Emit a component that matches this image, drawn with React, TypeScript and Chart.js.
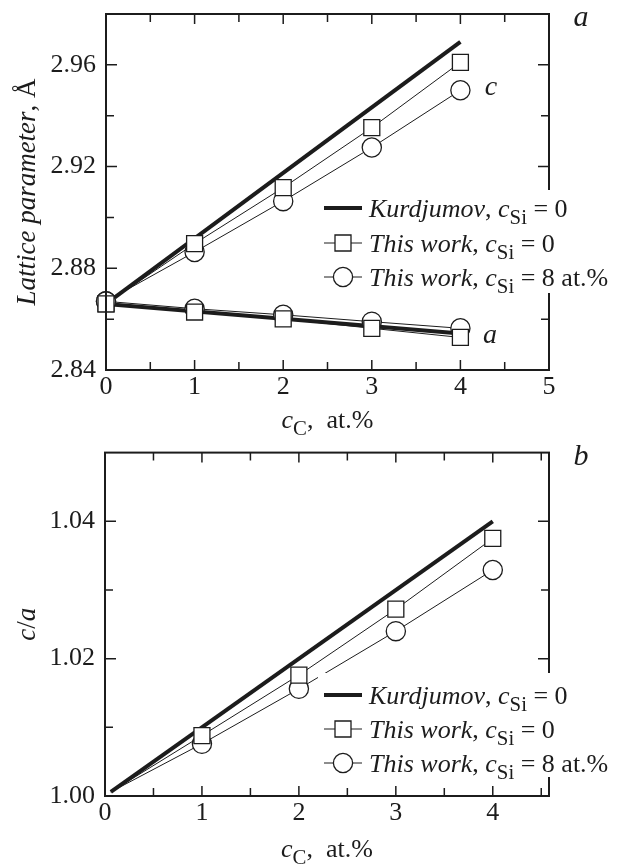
import React, { useEffect, useRef } from 'react';
import { Chart, registerables } from 'chart.js';
Chart.register(...registerables);

const FONT = '"Liberation Serif", "Times New Roman", serif';
const INK = '#1c1c1c';

// ---------- Panel a: lattice parameters ----------
const TOP_X = [0, 1, 2, 3, 4];
const TOP_KURD_X = [0, 4];
const TOP_KURD_C = [2.866, 2.969];
const TOP_KURD_A = [2.866, 2.8544];
const TOP_SQ_C = [2.866, 2.8897, 2.9117, 2.9353, 2.961];
const TOP_SQ_A = [2.866, 2.8628, 2.8601, 2.8564, 2.8528];
const TOP_CI_C = [2.867, 2.8864, 2.9064, 2.9275, 2.950];
const TOP_CI_A = [2.867, 2.8641, 2.8617, 2.859, 2.8564];
const TOP_X_TICKS = [0, 1, 2, 3, 4, 5];
const TOP_X_MINOR = [0.5, 1.5, 2.5, 3.5, 4.5];
const TOP_Y_TICKS = [2.84, 2.88, 2.92, 2.96];
const TOP_Y_MINOR = [2.86, 2.90, 2.94];

// ---------- Panel b: c/a ----------
const BOT_X = [0.06, 1, 2, 3, 4];
const BOT_KURD_X = [0.06, 4];
const BOT_KURD = [1.0006, 1.040];
const BOT_SQ = [1.0006, 1.0088, 1.0176, 1.0272, 1.0375];
const BOT_CI = [1.0006, 1.0076, 1.0156, 1.0240, 1.0329];
const BOT_X_TICKS = [0, 1, 2, 3, 4];
const BOT_X_MINOR = [0.5, 1.5, 2.5, 3.5, 4.5];
const BOT_Y_TICKS = [1.00, 1.02, 1.04];
const BOT_Y_MINOR = [1.01, 1.03];

const LEGEND = [
  { kind: 'line', segs: [['Kurdjumov', true, false], [', ', false, false], ['c', true, false], ['Si', false, true], [' = 0', false, false]] },
  { kind: 'rect', segs: [['This work', true, false], [', ', false, false], ['c', true, false], ['Si', false, true], [' = 0', false, false]] },
  { kind: 'circle', segs: [['This work', true, false], [', ', false, false], ['c', true, false], ['Si', false, true], [' = 8 at.%', false, false]] },
];

type Seg = [string, boolean, boolean];

function segFont(s: Seg, size: number) {
  const sz = s[2] ? size * 0.8 : size;
  return `${s[1] ? 'italic ' : ''}${sz}px ${FONT}`;
}

function richWidth(ctx: CanvasRenderingContext2D, segs: Seg[], size: number) {
  let w = 0;
  for (const s of segs) { ctx.font = segFont(s, size); w += ctx.measureText(s[0]).width; }
  return w;
}

function drawRich(ctx: CanvasRenderingContext2D, segs: Seg[], x: number, y: number, size: number, align: 'left' | 'center') {
  let cx = align === 'center' ? x - richWidth(ctx, segs, size) / 2 : x;
  ctx.textAlign = 'left';
  ctx.textBaseline = 'alphabetic';
  ctx.fillStyle = INK;
  for (const s of segs) {
    ctx.font = segFont(s, size);
    ctx.fillText(s[0], cx, y + (s[2] ? size * 0.28 : 0));
    cx += ctx.measureText(s[0]).width;
  }
}

const pts = (xs: number[], ys: number[]) => xs.map((x, i) => ({ x, y: ys[i] }));

const markerDs = (label: string, data: any[], style: 'rect' | 'circle', firstVisible = true) => ({
  label,
  data,
  borderColor: INK,
  borderWidth: 1,
  pointStyle: style,
  pointRadius: data.map((_, i) => (i === 0 && !firstVisible ? 0 : style === 'rect' ? 11.3 : 9.6)),
  pointBorderWidth: 1.3,
  pointBorderColor: INK,
  pointBackgroundColor: '#ffffff',
  showLine: true,
  tension: 0,
  clip: false as any,
});

const kurdDs = (label: string, data: any[]) => ({
  label,
  data,
  borderColor: INK,
  borderWidth: 4,
  pointRadius: 0,
  showLine: true,
  tension: 0,
  clip: false as any,
});

type PanelCfg = {
  xTicks: number[]; xMinor: number[]; yTicks: number[]; yMinor: number[];
  legendRows: number[]; legendBg: [number, number, number, number];
  yTitle: Seg[]; yTitleX: number; xTitleY: number;
  labels: { t: string; x: number; y: number; size: number }[];
};

function decorPlugin(p: PanelCfg) {
  return {
    id: 'decor',
    afterDatasetsDraw(chart: any) {
      const { ctx, chartArea: a, scales } = chart;
      const xs = scales.x, ys = scales.y;
      ctx.save();
      ctx.strokeStyle = INK;
      ctx.lineWidth = 2;
      ctx.strokeRect(a.left, a.top, a.right - a.left, a.bottom - a.top);
      ctx.lineWidth = 1.5;
      const xt = (v: number, len: number) => {
        const px = xs.getPixelForValue(v);
        ctx.beginPath();
        ctx.moveTo(px, a.bottom); ctx.lineTo(px, a.bottom - len);
        ctx.moveTo(px, a.top); ctx.lineTo(px, a.top + len);
        ctx.stroke();
      };
      const yt = (v: number, len: number) => {
        const py = ys.getPixelForValue(v);
        ctx.beginPath();
        ctx.moveTo(a.left, py); ctx.lineTo(a.left + len, py);
        ctx.moveTo(a.right, py); ctx.lineTo(a.right - len, py);
        ctx.stroke();
      };
      p.xTicks.forEach((v) => xt(v, 10));
      p.xMinor.forEach((v) => xt(v, 8));
      p.yTicks.forEach((v) => yt(v, 11));
      p.yMinor.forEach((v) => yt(v, 8));

      const [bx, by, bw, bh] = p.legendBg;
      ctx.fillStyle = '#ffffff';
      ctx.fillRect(bx, by, bw, bh);
      const size = 26;
      LEGEND.forEach((item, i) => {
        const cy = p.legendRows[i];
        ctx.strokeStyle = INK;
        if (item.kind === 'line') {
          ctx.lineWidth = 4;
          ctx.beginPath(); ctx.moveTo(324, cy); ctx.lineTo(362, cy); ctx.stroke();
        } else {
          ctx.lineWidth = 1;
          ctx.beginPath(); ctx.moveTo(324, cy); ctx.lineTo(362, cy); ctx.stroke();
          ctx.lineWidth = 1.3;
          ctx.fillStyle = '#ffffff';
          ctx.beginPath();
          if (item.kind === 'rect') ctx.rect(343 - 8, cy - 8, 16, 16);
          else ctx.arc(343, cy, 9.6, 0, Math.PI * 2);
          ctx.fill(); ctx.stroke();
        }
        drawRich(ctx, item.segs as Seg[], 369, cy + size * 0.34, size, 'left');
      });

      const cx = (a.left + a.right) / 2;
      drawRich(ctx, [['c', true, false], ['C', false, true], [',  at.%', false, false]], cx, p.xTitleY + 8, 26, 'center');
      ctx.save();
      ctx.translate(p.yTitleX, (a.top + a.bottom) / 2);
      ctx.rotate(-Math.PI / 2);
      drawRich(ctx, p.yTitle, 0, 9, 27, 'center');
      ctx.restore();
      p.labels.forEach((l) => {
        ctx.font = `italic ${l.size}px ${FONT}`;
        ctx.fillStyle = INK;
        ctx.textAlign = 'center';
        ctx.textBaseline = 'middle';
        ctx.fillText(l.t, l.x, l.y);
      });
      ctx.restore();
    },
  };
}

function makeConfig(datasets: any[], xMin: number, xMax: number, yMin: number, yMax: number,
  xTicks: number[], yTicks: number[], leftW: number, bottomH: number, padTop: number, padRight: number, p: PanelCfg) {
  const tickFont = { family: FONT, size: 26 };
  return {
    type: 'line',
    data: { datasets },
    options: {
      animation: false,
      responsive: false,
      devicePixelRatio: 1,
      layout: { padding: { top: padTop, right: padRight, left: 0, bottom: 0 } },
      plugins: { legend: { display: false }, tooltip: { enabled: false } },
      scales: {
        x: {
          type: 'linear', min: xMin, max: xMax,
          grid: { display: false, drawTicks: false },
          border: { display: false },
          afterBuildTicks: (s: any) => { s.ticks = xTicks.map((v) => ({ value: v })); },
          afterFit: (s: any) => { s.height = bottomH; s.paddingLeft = 0; s.paddingRight = 0; },
          ticks: { font: tickFont, color: INK, padding: 2, maxRotation: 0, autoSkip: false, callback: (v: any) => String(v) },
        },
        y: {
          type: 'linear', min: yMin, max: yMax,
          grid: { display: false, drawTicks: false },
          border: { display: false },
          afterBuildTicks: (s: any) => { s.ticks = yTicks.map((v) => ({ value: v })); },
          afterFit: (s: any) => { s.width = leftW; s.paddingTop = 0; s.paddingBottom = 0; },
          ticks: { font: tickFont, color: INK, padding: 10, autoSkip: false, callback: (v: any) => Number(v).toFixed(2) },
        },
      },
    },
    plugins: [decorPlugin(p)],
  } as any;
}

export default function App() {
  const topRef = useRef<HTMLCanvasElement>(null);
  const botRef = useRef<HTMLCanvasElement>(null);

  useEffect(() => {
    const topDs = [
      markerDs('sq c', pts(TOP_X, TOP_SQ_C), 'rect'),
      markerDs('ci c', pts(TOP_X, TOP_CI_C), 'circle'),
      markerDs('sq a', pts(TOP_X, TOP_SQ_A), 'rect'),
      markerDs('ci a', pts(TOP_X, TOP_CI_A), 'circle'),
      kurdDs('Kurdjumov c', pts(TOP_KURD_X, TOP_KURD_C)),
      kurdDs('Kurdjumov a', pts(TOP_KURD_X, TOP_KURD_A)),
    ];
    const topCfg: PanelCfg = {
      xTicks: TOP_X_TICKS, xMinor: TOP_X_MINOR, yTicks: TOP_Y_TICKS, yMinor: TOP_Y_MINOR,
      legendRows: [208, 243, 277], legendBg: [318, 190, 299, 103],
      yTitle: [['Lattice parameter', true, false], [', Å', false, false]], yTitleX: 26, xTitleY: 420,
      labels: [
        { t: 'a', x: 581, y: 18, size: 30 },
        { t: 'c', x: 491, y: 88, size: 28 },
        { t: 'a', x: 490, y: 336, size: 28 },
      ],
    };
    const top = new Chart(topRef.current!, makeConfig(topDs, 0, 5, 2.84, 2.98, TOP_X_TICKS, TOP_Y_TICKS, 106, 70, 14, 68, topCfg));

    const botDs = [
      markerDs('sq', pts(BOT_X, BOT_SQ), 'rect', false),
      markerDs('ci', pts(BOT_X, BOT_CI), 'circle', false),
      kurdDs('Kurdjumov', pts(BOT_KURD_X, BOT_KURD)),
    ];
    const botCfg: PanelCfg = {
      xTicks: BOT_X_TICKS, xMinor: BOT_X_MINOR, yTicks: BOT_Y_TICKS, yMinor: BOT_Y_MINOR,
      legendRows: [255, 289, 323], legendBg: [318, 233, 299, 104],
      yTitle: [['c', true, false], ['/', false, false], ['a', true, false]], yTitleX: 26, xTitleY: 409,
      labels: [{ t: 'b', x: 581, y: 17, size: 30 }],
    };
    const bot = new Chart(botRef.current!, makeConfig(botDs, 0, 4.58, 1.0, 1.05, BOT_X_TICKS, BOT_Y_TICKS, 105, 70, 6, 68, botCfg));

    return () => { top.destroy(); bot.destroy(); };
  }, []);

  return (
    <div style={{ position: 'absolute', left: 0, top: 0, width: 617, height: 866, background: '#fff' }}>
      <canvas ref={topRef} width={617} height={440} style={{ position: 'absolute', left: 0, top: 0, display: 'block' }} />
      <canvas ref={botRef} width={617} height={426} style={{ position: 'absolute', left: 0, top: 440, display: 'block' }} />
    </div>
  );
}
